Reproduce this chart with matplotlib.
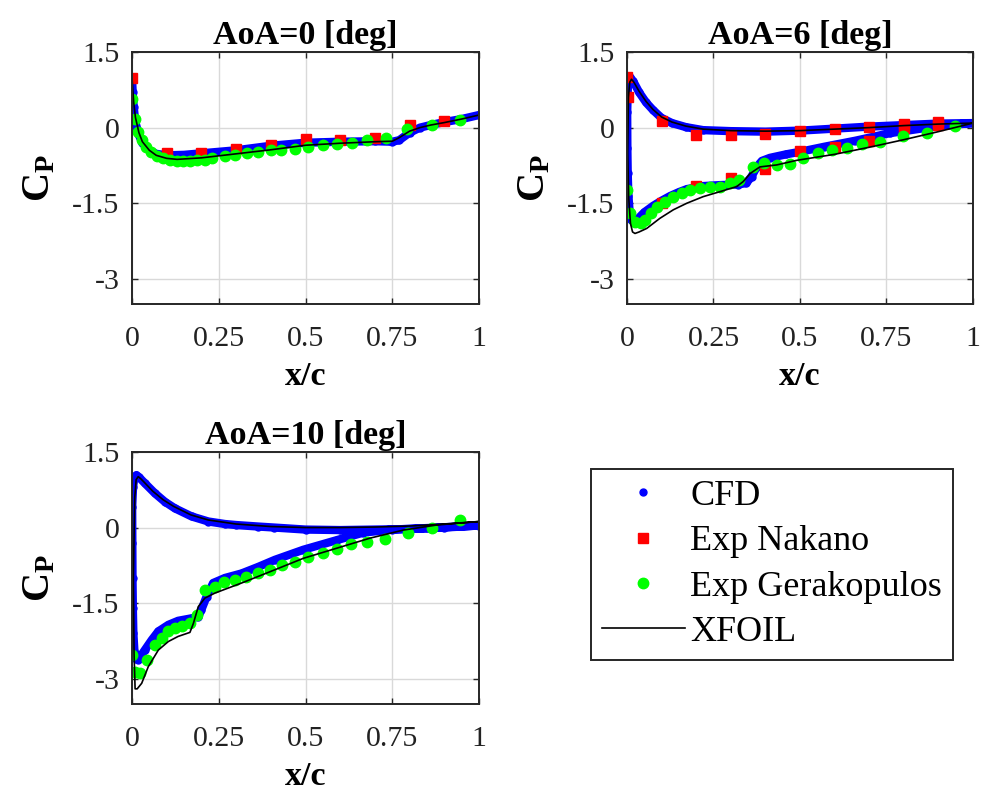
import numpy as np
import matplotlib
matplotlib.use('Agg')
import matplotlib.pyplot as plt

plt.rcParams['font.family'] = ['Liberation Serif', 'DejaVu Serif']
plt.rcParams['mathtext.fontset'] = 'custom'
plt.rcParams['mathtext.rm'] = 'Liberation Serif'
plt.rcParams['mathtext.bf'] = 'Liberation Serif:bold'
plt.rcParams['axes.unicode_minus'] = False

# ---------------- AoA = 0 ----------------
cfd0_x = [0.0, 0.002, 0.005, 0.01, 0.02, 0.03, 0.05, 0.07, 0.1, 0.15, 0.2, 0.3, 0.4,
          0.5, 0.6, 0.7, 0.75, 0.77, 0.8, 0.83, 0.86, 0.9, 0.95, 1.0]
cfd0_cp = [1.0, 0.7, 0.4, 0.1, -0.15, -0.3, -0.45, -0.52, -0.55, -0.54, -0.51, -0.45, -0.36,
           -0.3, -0.28, -0.27, -0.28, -0.25, -0.1, 0.0, 0.05, 0.11, 0.17, 0.25]
nak0_x = [0, 0.1, 0.2, 0.3, 0.4, 0.5, 0.6, 0.7, 0.8, 0.9]
nak0_cp = [0.99, -0.51, -0.51, -0.43, -0.35, -0.23, -0.24, -0.2, 0.05, 0.14]
ger0_x = [0, 0.009, 0.018, 0.028, 0.04, 0.055, 0.071, 0.09, 0.11, 0.129, 0.148, 0.167, 0.186,
          0.21, 0.23, 0.268, 0.297, 0.33, 0.364, 0.4, 0.43, 0.47, 0.508, 0.551, 0.592, 0.633,
          0.676, 0.731, 0.793, 0.865, 0.945]
ger0_cp = [0.57, 0.17, -0.08, -0.25, -0.38, -0.48, -0.56, -0.61, -0.64, -0.66, -0.66, -0.66, -0.64,
           -0.64, -0.61, -0.56, -0.54, -0.51, -0.48, -0.44, -0.44, -0.43, -0.38, -0.35, -0.33, -0.31,
           -0.25, -0.21, -0.02, 0.05, 0.15]
xf0_x = [0.0, 0.005, 0.01, 0.02, 0.03, 0.05, 0.07, 0.1, 0.13, 0.2, 0.3, 0.4, 0.5, 0.6, 0.7,
         0.75, 0.77, 0.8, 0.83, 0.86, 0.9, 0.95, 1.0]
xf0_cp = [1.0, 0.5, 0.2, -0.1, -0.28, -0.45, -0.55, -0.61, -0.63, -0.6, -0.52, -0.44, -0.35, -0.31,
          -0.28, -0.27, -0.2, -0.07, 0.0, 0.05, 0.1, 0.17, 0.25]

# ---------------- AoA = 6 ----------------
cfd6_x = [1.0, 0.9, 0.8, 0.7, 0.6, 0.5, 0.4, 0.3, 0.22, 0.17, 0.13, 0.1, 0.075, 0.055, 0.035,
          0.018, 0.008, 0.003, 0.0005,
          0.001, 0.002, 0.004, 0.008, 0.013, 0.02, 0.03, 0.05, 0.076, 0.1, 0.124, 0.15, 0.173,
          0.22, 0.27, 0.32, 0.345, 0.36, 0.375, 0.39, 0.413, 0.46, 0.5, 0.57, 0.66, 0.76, 0.86,
          0.93, 1.0]
cfd6_cp = [0.09, 0.08, 0.05, 0.02, -0.02, -0.06, -0.08, -0.07, -0.05, 0.01, 0.09, 0.19, 0.35, 0.5,
           0.7, 0.92, 1.0, 0.95, 0.3,
           -0.4, -0.9, -1.35, -1.7, -1.84, -1.87, -1.82, -1.68, -1.55, -1.45, -1.36, -1.28, -1.22,
           -1.16, -1.14, -1.13, -1.1, -0.97, -0.78, -0.66, -0.6, -0.53, -0.48, -0.38, -0.26, -0.11,
           -0.01, 0.05, 0.09]
nak6_x = [0, 0.003, 0.1, 0.2, 0.3, 0.4, 0.5, 0.6, 0.7, 0.8, 0.9,
          0.1, 0.2, 0.3, 0.4, 0.5, 0.6, 0.7, 0.8, 0.9]
nak6_cp = [1.01, 0.61, 0.13, -0.15, -0.14, -0.12, -0.07, -0.03, 0.02, 0.08, 0.12,
           -1.49, -1.16, -1.0, -0.83, -0.47, -0.38, -0.26, 0.0, 0.05]
ger6_x = [0, 0.009, 0.023, 0.04, 0.052, 0.068, 0.088, 0.11, 0.134, 0.158, 0.182, 0.211, 0.24,
          0.269, 0.298, 0.325, 0.363, 0.397, 0.433, 0.471, 0.51, 0.553, 0.592, 0.635, 0.678,
          0.731, 0.797, 0.866, 0.948]
ger6_cp = [-1.24, -1.7, -1.87, -1.9, -1.83, -1.7, -1.57, -1.47, -1.37, -1.3, -1.24, -1.2, -1.17,
           -1.17, -1.1, -1.04, -0.78, -0.71, -0.74, -0.72, -0.61, -0.51, -0.44, -0.41, -0.33,
           -0.29, -0.17, -0.1, 0.03]
xf6_x = [1.0, 0.9, 0.8, 0.7, 0.6, 0.5, 0.4, 0.3, 0.22, 0.17, 0.13, 0.1, 0.075, 0.055, 0.035,
         0.02, 0.013, 0.008, 0.004,
         0.002, 0.005, 0.01, 0.016, 0.023, 0.035, 0.057, 0.095, 0.134, 0.173, 0.22, 0.269, 0.317,
         0.336, 0.356, 0.384, 0.433, 0.49, 0.6, 0.7, 0.8, 0.9, 1.0]
xf6_cp = [0.09, 0.07, 0.04, 0.0, -0.03, -0.06, -0.07, -0.06, -0.03, 0.03, 0.11, 0.21, 0.36, 0.52,
          0.72, 0.9, 0.96, 0.9, 0.6,
          -0.5, -1.4, -1.9, -2.07, -2.1, -2.07, -2.0, -1.8, -1.63, -1.5, -1.37, -1.27, -1.17,
          -1.07, -0.91, -0.78, -0.74, -0.65, -0.53, -0.39, -0.24, -0.08, 0.09]

# ---------------- AoA = 10 ----------------
cfd10_x = [1.0, 0.9, 0.8, 0.7, 0.6, 0.5, 0.41, 0.364, 0.3, 0.268, 0.22, 0.172, 0.124, 0.095,
           0.066, 0.037, 0.02, 0.013, 0.007, 0.003,
           0.0005, 0.001, 0.0015, 0.0025, 0.004, 0.007, 0.012, 0.018, 0.037, 0.057, 0.076, 0.105,
           0.133, 0.172, 0.191, 0.2, 0.215, 0.234, 0.268, 0.316, 0.364, 0.412, 0.494, 0.59,
           0.667, 0.75, 0.85, 1.0]
cfd10_cp = [0.04, 0.0, -0.03, -0.04, -0.05, -0.04, 0.0, 0.02, 0.05, 0.07, 0.12, 0.22, 0.38, 0.51,
            0.68, 0.88, 1.0, 1.04, 1.0, 0.8,
            0.4, -0.3, -1.0, -1.6, -2.1, -2.45, -2.6, -2.62, -2.43, -2.23, -2.06, -1.93,
            -1.85, -1.8, -1.77, -1.63, -1.37, -1.1, -1.0, -0.91, -0.78, -0.64, -0.44, -0.25,
            -0.1, -0.04, -0.01, 0.04]
ger10_x = [0, 0.009, 0.023, 0.042, 0.066, 0.086, 0.105, 0.124, 0.145, 0.167, 0.186, 0.21, 0.239,
           0.266, 0.297, 0.328, 0.362, 0.397, 0.431, 0.47, 0.508, 0.551, 0.59, 0.632, 0.676,
           0.729, 0.794, 0.865, 0.944]
ger10_cp = [-2.53, -2.86, -2.88, -2.63, -2.33, -2.2, -2.06, -2.0, -1.95, -1.9, -1.73, -1.24,
            -1.17, -1.09, -1.04, -0.99, -0.9, -0.84, -0.75, -0.69, -0.59, -0.51, -0.43, -0.33,
            -0.29, -0.23, -0.1, 0.0, 0.14]
xf10_x = [1.0, 0.9, 0.8, 0.7, 0.6, 0.5, 0.4, 0.3, 0.22, 0.17, 0.12, 0.09, 0.06, 0.035, 0.025,
          0.018, 0.012, 0.008,
          0.004, 0.006, 0.009, 0.015, 0.028, 0.047, 0.076, 0.105, 0.133, 0.167, 0.177, 0.191,
          0.21, 0.239, 0.316, 0.4, 0.494, 0.59, 0.686, 0.782, 0.878, 1.0]
xf10_cp = [0.12, 0.07, 0.03, 0.01, 0.0, 0.0, 0.02, 0.07, 0.15, 0.25, 0.42, 0.55, 0.72, 0.9, 0.97,
           1.01, 0.95, 0.6,
           -1.0, -2.5, -3.2, -3.2, -3.09, -2.76, -2.43, -2.26, -2.16, -2.08, -1.9, -1.57,
           -1.4, -1.3, -1.1, -0.87, -0.61, -0.41, -0.21, -0.05, 0.05, 0.12]

titles = ['AoA=0 [deg]', 'AoA=6 [deg]', 'AoA=10 [deg]']
xticks = [0, 0.25, 0.5, 0.75, 1]
xticklabels = ['0', '0.25', '0.5', '0.75', '1']
yticks = [-3, -1.5, 0, 1.5]
yticklabels = ['-3', '-1.5', '0', '1.5']

panels = [
    (cfd0_x, cfd0_cp, nak0_x, nak0_cp, ger0_x, ger0_cp, xf0_x, xf0_cp),
    (cfd6_x, cfd6_cp, nak6_x, nak6_cp, ger6_x, ger6_cp, xf6_x, xf6_cp),
    (cfd10_x, cfd10_cp, None, None, ger10_x, ger10_cp, xf10_x, xf10_cp),
]
positions = [
    [0.1344, 0.6171, 0.3534, 0.3174],
    [0.6385, 0.6171, 0.3523, 0.3174],
    [0.1344, 0.1134, 0.3534, 0.3174],
]

dark = (0.15, 0.15, 0.15)
fig = plt.figure(figsize=(9.82, 7.94), dpi=100)
handles = None
for pos, title, data in zip(positions, titles, panels):
    cx, cc, nx, nc, gx, gc, fx, fc = data
    ax = fig.add_axes(pos)
    ax.plot(cx, cc, color='blue', lw=6, solid_joinstyle='round', solid_capstyle='round')
    h1, = ax.plot(cx, cc, 'o', color='blue', ms=5, label='CFD')
    if nx is not None:
        ax.plot(nx, nc, 's', color='red', ms=6.5, label='Exp Nakano')
    h2, = ax.plot([], [], 's', color='red', ms=6.5, label='Exp Nakano')
    h3, = ax.plot(gx, gc, 'o', color=(0, 1, 0), ms=7.5, label='Exp Gerakopulos')
    h4, = ax.plot(fx, fc, '-', color='black', lw=1.2, label='XFOIL')
    handles = [h1, h2, h3, h4]

    ax.set_xlim(0, 1)
    ax.set_ylim(-3.5, 1.5)
    ax.set_xticks(xticks)
    ax.set_xticklabels(xticklabels)
    ax.set_yticks(yticks)
    ax.set_yticklabels(yticklabels)
    ax.grid(True, color=(0.85, 0.85, 0.85), lw=1)
    ax.set_axisbelow(True)
    ax.tick_params(direction='in', length=4, width=1, colors=dark, labelcolor='#222222',
                   top=True, right=True, labelsize=21.5)
    ax.tick_params(axis='x', pad=16)
    ax.tick_params(axis='y', pad=9)
    for s in ax.spines.values():
        s.set_color(dark)
        s.set_linewidth(1.4)
    ax.set_title(title, fontsize=24.5, fontweight='bold', pad=6)
    ax.set_xlabel('x/c', fontsize=24.5, fontweight='bold', labelpad=6)
    ax.set_ylabel(r'$\mathbf{C_P}$', fontsize=29, labelpad=10)

leg = fig.legend(handles, ['CFD', 'Exp Nakano', 'Exp Gerakopulos', 'XFOIL'],
                 loc='upper left', bbox_to_anchor=(591 / 982, 1 - 469 / 794),
                 fontsize=26, frameon=True, fancybox=False, framealpha=1,
                 edgecolor=dark, borderpad=0.3, labelspacing=0.33,
                 handlelength=2.3, handletextpad=0.15, borderaxespad=0)
leg.get_frame().set_linewidth(1.4)

plt.savefig('out.png', dpi=100)
